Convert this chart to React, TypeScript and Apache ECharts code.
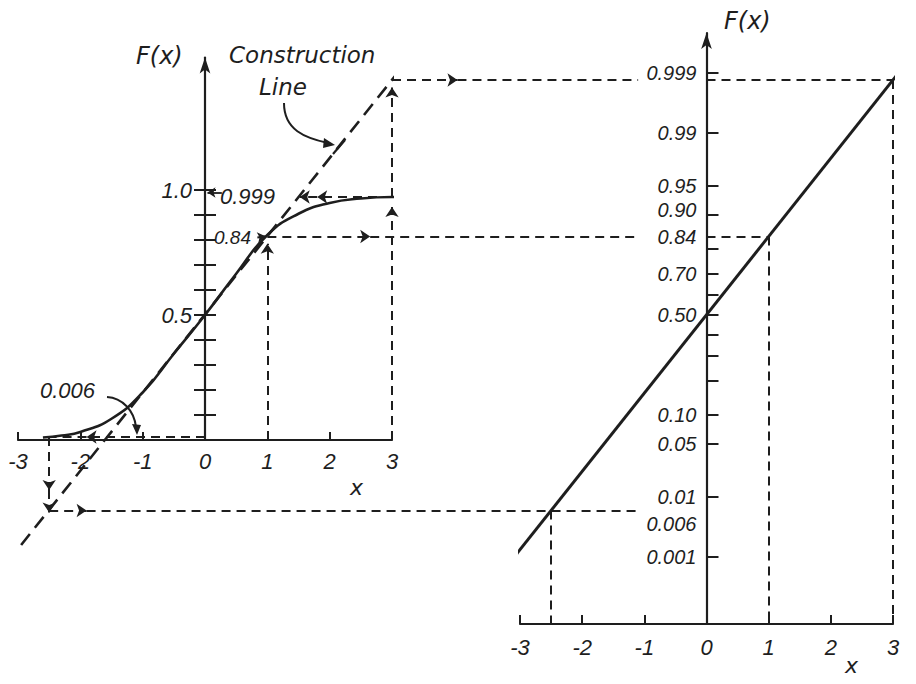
import React, { useEffect, useRef } from "react";
import * as echarts from "echarts";

// ---------- data ----------
const xTicks = [-3, -2, -1, 0, 1, 2, 3];
// left chart: cumulative curve F(x) on ordinary paper
const cdfX = [-2.6, -2.3, -2, -1.5, -1, -0.5, 0, 0.5, 1, 1.5, 2, 2.5, 3, 3.3];
const cdfY = [0.01, 0.018, 0.032, 0.085, 0.19, 0.345, 0.5, 0.665, 0.82, 0.905, 0.948, 0.966, 0.972, 0.972];
const leftYTicks = [0.1, 0.2, 0.3, 0.4, 0.5, 0.6, 0.7, 0.8, 0.9, 1.0];
const leftYLabels = [0.5, 1.0];
// construction line (dashed) in left chart units
const constructionX = [-2.95, 3.35];
const constructionY = [-0.42, 1.55];
// right chart: probability paper
const probTicks = [0.001, 0.01, 0.05, 0.1, 0.2, 0.3, 0.4, 0.5, 0.6, 0.7, 0.8, 0.9, 0.95, 0.99, 0.999];
const probLabels = ["0.001", "0.006", "0.01", "0.05", "0.10", "0.50", "0.70", "0.84", "0.90", "0.95", "0.99", "0.999"];
const paperLineX = [-3.9, 3.5];
// worked examples
const exampleX = [-2.5, 1, 3];
const exampleCurveF = [0.012, 0.82, 0.972];
const exampleConstructionF = [-0.28, 0.815, 1.44];
const connectorArrowX = [-1.9, 2.65, 4.05];

const INK = "#1e1e1e";
const Z_MIN = -3.95;
const Z_MAX = 3.6;
const LABEL_GAP_X = -1.1;
const LEFT_W = 374;
const RIGHT_W = 373;

function probit(p: number): number {
  const a = [-3.969683028665376e1, 2.209460984245205e2, -2.759285104469687e2, 1.38357751867269e2, -3.066479806614716e1, 2.506628277459239];
  const b = [-5.447609879822406e1, 1.615858368580409e2, -1.556989798598866e2, 6.680131188771972e1, -1.328068155288572e1];
  const c = [-7.784894002430293e-3, -3.223964580411365e-1, -2.400758277161838, -2.549732539343734, 4.374664141464968, 2.938163982698783];
  const d = [7.784695709041462e-3, 3.224671290700398e-1, 2.445134137142996, 3.754408661907416];
  const pl = 0.02425;
  if (p < pl) {
    const q = Math.sqrt(-2 * Math.log(p));
    return (((((c[0] * q + c[1]) * q + c[2]) * q + c[3]) * q + c[4]) * q + c[5]) / ((((d[0] * q + d[1]) * q + d[2]) * q + d[3]) * q + 1);
  }
  if (p <= 1 - pl) {
    const q = p - 0.5;
    const r = q * q;
    return ((((((a[0] * r + a[1]) * r + a[2]) * r + a[3]) * r + a[4]) * r + a[5]) * q) / (((((b[0] * r + b[1]) * r + b[2]) * r + b[3]) * r + b[4]) * r + 1);
  }
  const q = Math.sqrt(-2 * Math.log(1 - p));
  return -(((((c[0] * q + c[1]) * q + c[2]) * q + c[3]) * q + c[4]) * q + c[5]) / ((((d[0] * q + d[1]) * q + d[2]) * q + d[3]) * q + 1);
}

const numFont = "Liberation Sans";
const wordFont = "DejaVu Sans";

export default function App() {
  const ref = useRef<HTMLDivElement>(null);

  useEffect(() => {
    if (!ref.current) return;
    const chart = echarts.init(ref.current, null, { renderer: "svg" });

    const labelZ = probLabels.map((s) => probit(parseFloat(s)));
    const axisLabelStyle = {
      color: INK,
      fontStyle: "italic" as const,
      fontFamily: numFont,
      fontSize: 22,
    };
    const probLabelStyle = { ...axisLabelStyle, fontSize: 20 };

    const dashGuide = { color: INK, width: 2, type: [9, 6] as number[], opacity: 1 };

    const leftArrowSegs: any[] = [];
    const leftPlainSegs: any[] = [];
    // x = 1 : vertical up to the curve
    leftArrowSegs.push({ coords: [[exampleX[1], 0], [exampleX[1], exampleCurveF[1] - 0.035]] });
    // x = 3 : vertical up to the curve and on to the construction line
    leftArrowSegs.push({ coords: [[exampleX[2], 0], [exampleX[2], exampleCurveF[2] - 0.04]] });
    leftArrowSegs.push({ coords: [[exampleX[2], exampleCurveF[2]], [exampleX[2], exampleConstructionF[2] - 0.03]] });
    // 0.999 level : back to the construction line
    leftArrowSegs.push({ coords: [[exampleX[2], exampleCurveF[2]], [1.8, exampleCurveF[2]]] });
    leftArrowSegs.push({ coords: [[1.8, exampleCurveF[2]], [1.52, exampleCurveF[2]]] });
    // 0.006 level : along the axis to x = -2.5
    leftArrowSegs.push({ coords: [[0, exampleCurveF[0]], [-1.9, exampleCurveF[0]]] });
    leftPlainSegs.push({ coords: [[-1.9, exampleCurveF[0]], [exampleX[0], exampleCurveF[0]]] });
    // x = -2.5 : down to the construction line
    leftArrowSegs.push({ coords: [[exampleX[0], exampleCurveF[0]], [exampleX[0], -0.2]] });
    leftArrowSegs.push({ coords: [[exampleX[0], -0.2], [exampleX[0], exampleConstructionF[0] - 0.01]] });

    const leaderSegs = [
      { coords: [[0.27, 0.99], [0.04, 0.99]] },
      { coords: [[0.84, 0.81], [0.97, 0.815]] },
    ];

    const rightVerticals = exampleX.map((x) => ({ coords: [[x, x], [x, Z_MIN]] }));

    const series: any[] = [
      {
        type: "line",
        xAxisIndex: 0,
        yAxisIndex: 0,
        data: cdfX.map((x, i) => [x, cdfY[i]]),
        smooth: 0.5,
        showSymbol: false,
        clip: false,
        lineStyle: { color: INK, width: 2.6 },
        z: 5,
      },
      {
        type: "line",
        xAxisIndex: 0,
        yAxisIndex: 0,
        data: constructionX.map((x, i) => [x, constructionY[i]]),
        showSymbol: false,
        clip: false,
        lineStyle: { color: INK, width: 2.6, type: [14, 8] },
        z: 4,
      },
      {
        type: "line",
        xAxisIndex: 1,
        yAxisIndex: 2,
        data: paperLineX.map((x) => [x, x]),
        showSymbol: false,
        clip: false,
        lineStyle: { color: INK, width: 3 },
        z: 5,
      },
      {
        type: "lines",
        coordinateSystem: "cartesian2d",
        xAxisIndex: 0,
        yAxisIndex: 0,
        clip: false,
        symbol: ["none", "arrow"],
        symbolSize: 10,
        lineStyle: dashGuide,
        data: leftArrowSegs,
        z: 3,
      },
      {
        type: "lines",
        coordinateSystem: "cartesian2d",
        xAxisIndex: 0,
        yAxisIndex: 0,
        clip: false,
        symbol: ["none", "none"],
        lineStyle: dashGuide,
        data: leftPlainSegs,
        z: 3,
      },
      {
        type: "lines",
        coordinateSystem: "cartesian2d",
        xAxisIndex: 0,
        yAxisIndex: 0,
        clip: false,
        symbol: ["none", "arrow"],
        symbolSize: 8,
        lineStyle: { color: INK, width: 1.8, opacity: 1 },
        data: leaderSegs,
        z: 3,
      },
      {
        type: "lines",
        coordinateSystem: "cartesian2d",
        xAxisIndex: 1,
        yAxisIndex: 2,
        clip: false,
        symbol: ["none", "none"],
        lineStyle: dashGuide,
        data: rightVerticals,
        z: 3,
      },
    ];

    const textStyle = (text: string, x: number, y: number, font: string) => ({
      type: "text",
      style: { text, x, y, font, fill: INK, textAlign: "left", textVerticalAlign: "top" },
      z: 10,
    });

    const option: any = {
      animation: false,
      backgroundColor: "#ffffff",
      grid: [
        { left: 18, top: 57.5, width: LEFT_W, height: 382.5, containLabel: false, outerBoundsMode: "none" },
        {
          left: 520,
          top: 33,
          width: RIGHT_W,
          height: (Z_MAX - Z_MIN) * 78.28,
          containLabel: false,
          outerBoundsMode: "none",
        },
      ],
      xAxis: [
        {
          type: "value",
          gridIndex: 0,
          min: -3,
          max: 3,
          interval: 1,
          splitLine: { show: false },
          axisLine: { show: true, onZero: false, lineStyle: { color: INK, width: 2.2 } },
          axisTick: { show: true, inside: true, length: 8, lineStyle: { color: INK, width: 2 } },
          axisLabel: { ...axisLabelStyle, margin: 10, formatter: (v: number) => String(v) },
        },
        {
          type: "value",
          gridIndex: 1,
          min: -3,
          max: 3,
          interval: 1,
          splitLine: { show: false },
          axisLine: { show: true, onZero: false, lineStyle: { color: INK, width: 2.2 } },
          axisTick: { show: true, inside: true, length: 9, lineStyle: { color: INK, width: 2 } },
          axisLabel: { ...axisLabelStyle, margin: 12, formatter: (v: number) => String(v) },
        },
      ],
      yAxis: [
        {
          type: "value",
          gridIndex: 0,
          position: "left",
          offset: -LEFT_W / 2,
          min: 0,
          max: 1.53,
          splitLine: { show: false },
          axisLine: {
            show: true,
            onZero: false,
            symbol: ["none", "arrow"],
            symbolSize: [8, 16],
            lineStyle: { color: INK, width: 2.2 },
          },
          axisTick: { show: true, length: 11, customValues: leftYTicks, lineStyle: { color: INK, width: 2 } },
          axisLabel: {
            ...axisLabelStyle,
            margin: 13,
            customValues: leftYLabels,
            formatter: (v: number) => v.toFixed(1),
          },
        },
        {
          type: "value",
          gridIndex: 0,
          position: "left",
          offset: -LEFT_W / 2,
          min: 0,
          max: 1.53,
          splitLine: { show: false },
          axisLine: { show: false, onZero: false },
          axisTick: { show: true, inside: true, length: 11, customValues: leftYTicks, lineStyle: { color: INK, width: 2 } },
          axisLabel: { show: false },
        },
        {
          type: "value",
          gridIndex: 1,
          position: "left",
          offset: -RIGHT_W / 2,
          min: Z_MIN,
          max: Z_MAX,
          splitLine: { show: false },
          axisLine: {
            show: true,
            onZero: false,
            symbol: ["none", "arrow"],
            symbolSize: [8, 16],
            lineStyle: { color: INK, width: 2.2 },
          },
          axisTick: {
            show: true,
            inside: true,
            length: 12,
            customValues: probTicks.map(probit),
            lineStyle: { color: INK, width: 2 },
          },
          axisLabel: {
            ...probLabelStyle,
            margin: 10,
            lineHeight: 19,
            customValues: labelZ,
            formatter: (v: number) => {
              let best = 0;
              labelZ.forEach((z, i) => {
                if (Math.abs(z - v) < Math.abs(labelZ[best] - v)) best = i;
              });
              const s = probLabels[best];
              if (s === "0.006") return "{low|" + s + "}";
              if (s === "0.90") return "{high|" + s + "}";
              return s;
            },
            rich: {
              low: { ...probLabelStyle, lineHeight: 19, padding: [26, 0, 0, 0] },
              high: { ...probLabelStyle, lineHeight: 19, padding: [0, 0, 8, 0] },
            },
          },
        },
      ],
      series,
      graphic: [
        textStyle("F(x)", 136, 44, `italic 24px "${wordFont}"`),
        textStyle("Construction", 229, 43, `italic 23px "${wordFont}"`),
        textStyle("Line", 259, 75, `italic 23px "${wordFont}"`),
        textStyle("0.999", 220, 185, `italic 22px "${numFont}"`),
        textStyle("0.84", 214, 228, `italic 19px "${numFont}"`),
        textStyle("0.006", 40, 379, `italic 22px "${numFont}"`),
        textStyle("x", 350, 476, `italic 22px "${wordFont}"`),
        textStyle("F(x)", 724, 9, `italic 24px "${wordFont}"`),
        textStyle("x", 845, 654, `italic 22px "${wordFont}"`),
        {
          type: "bezierCurve",
          shape: { x1: 284, y1: 103, cpx1: 284, cpy1: 130, cpx2: 305, cpy2: 138, x2: 328, y2: 143 },
          style: { stroke: INK, lineWidth: 2, fill: "none" },
          z: 10,
        },
        {
          type: "polygon",
          shape: { points: [[335, 145], [324, 138], [323, 148]] },
          style: { fill: INK },
          z: 10,
        },
        {
          type: "line",
          shape: { x1: 333, y1: 154, x2: 345, y2: 140 },
          style: { stroke: INK, lineWidth: 2.2 },
          z: 10,
        },
        {
          type: "bezierCurve",
          shape: { x1: 107, y1: 397, cpx1: 122, cpy1: 398, cpx2: 134, cpy2: 410, x2: 136, y2: 427 },
          style: { stroke: INK, lineWidth: 2, fill: "none" },
          z: 10,
        },
        {
          type: "polygon",
          shape: { points: [[137, 435], [132, 424], [141, 425]] },
          style: { fill: INK },
          z: 10,
        },
      ],
    };

    chart.setOption(option);

    // connectors from the construction line (left chart) to the probability paper (right chart)
    const L2R = (xl: number, yl: number) => {
      const p = chart.convertToPixel({ xAxisIndex: 0, yAxisIndex: 0 }, [xl, yl]) as number[];
      return (chart.convertFromPixel({ xAxisIndex: 1, yAxisIndex: 2 }, p) as number[])[0];
    };
    const connArrow: any[] = [];
    const connPlain: any[] = [];
    exampleX.forEach((x, i) => {
      const z = x;
      const start = L2R(x, exampleConstructionF[i]);
      const arrowAt = L2R(connectorArrowX[i], exampleConstructionF[i]);
      connArrow.push({ coords: [[start, z], [arrowAt, z]] });
      connPlain.push({ coords: [[arrowAt, z], [LABEL_GAP_X, z]] });
      if (x > 0) connPlain.push({ coords: [[0, z], [x, z]] });
    });

    chart.setOption({
      series: [
        ...series,
        {
          type: "lines",
          coordinateSystem: "cartesian2d",
          xAxisIndex: 1,
          yAxisIndex: 2,
          clip: false,
          symbol: ["none", "arrow"],
          symbolSize: 10,
          lineStyle: dashGuide,
          data: connArrow,
          z: 3,
        },
        {
          type: "lines",
          coordinateSystem: "cartesian2d",
          xAxisIndex: 1,
          yAxisIndex: 2,
          clip: false,
          symbol: ["none", "none"],
          lineStyle: dashGuide,
          data: connPlain,
          z: 3,
        },
      ],
    });

    return () => chart.dispose();
  }, []);

  return (
    <div
      ref={ref}
      style={{ position: "fixed", left: 0, top: 0, width: 916, height: 684, background: "#fff" }}
    />
  );
}
